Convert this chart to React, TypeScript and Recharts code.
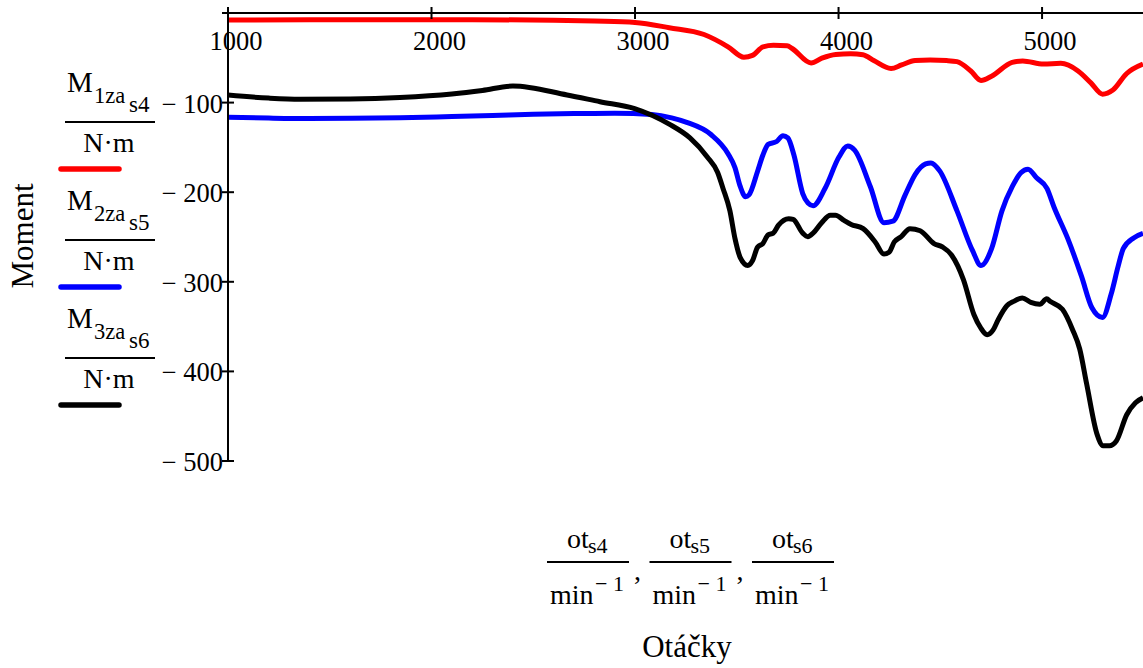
import React from 'react'
import { Line, LineChart, XAxis, YAxis } from 'recharts'

// Moment curves vs. engine speed
// each pair is [otacky (min^-1), moment (N·m)]
const m1za_s4: [number, number][] = [
  [1000, -7.8], [1400, -7.6], [1800, -7.4], [2200, -7.4], [2600, -8], [2800, -9],
  [3000, -10.6], [3168, -16.4], [3339, -24], [3457, -37.7], [3535, -49.3], [3577, -47.3],
  [3629, -37.7], [3680, -36], [3747, -36.5], [3772, -39.6], [3865, -55.8], [3918, -50.4],
  [3986, -46.2], [4060, -45.5], [4120, -46.5], [4173, -53.1], [4258, -62], [4310, -58],
  [4376, -53.1], [4450, -52.5], [4531, -53.1], [4582, -54.3], [4650, -64.7], [4700, -75.2],
  [4752, -70.5], [4853, -55.1], [4905, -53.5], [5007, -57], [5092, -56.2], [5177, -64.7],
  [5240, -78], [5297, -90.6], [5348, -86], [5416, -67.5], [5496, -57],
]

const m2za_s5: [number, number][] = [
  [1000, -116.4], [1200, -117.3], [1400, -117.8], [1600, -117.6], [1845, -117], [2100, -115.5],
  [2300, -114.3], [2500, -113], [2700, -112.3], [2900, -111.8], [3083, -113.3], [3180, -117],
  [3254, -122], [3373, -135.6], [3457, -157], [3491, -172.5], [3517, -193.6], [3543, -205],
  [3560, -203], [3603, -176], [3628, -158.8], [3654, -146.6], [3696, -143.4], [3727, -136.9],
  [3751, -139.4], [3781, -158.8], [3824, -201.5], [3850, -212], [3875, -215], [3934, -195.6],
  [4002, -160.8], [4045, -148.4], [4079, -153], [4156, -193.6], [4223, -234], [4267, -232.4],
  [4327, -203.3], [4377, -180], [4428, -168.4], [4454, -167.3], [4497, -176.2], [4582, -220.8],
  [4658, -265], [4700, -281.8], [4752, -263], [4803, -220.8], [4854, -193.6], [4896, -178.3],
  [4931, -174.3], [4973, -184], [5024, -195.7], [5059, -216.8], [5126, -251.6], [5194, -294],
  [5245, -329], [5297, -339.8], [5340, -313.4], [5374, -282.6], [5399, -263], [5450, -251],
  [5496, -246],
]

const m3za_s6: [number, number][] = [
  [1000, -91.5], [1200, -95], [1354, -96.3], [1600, -96], [1845, -94.4], [2100, -90.5],
  [2250, -86.5], [2400, -81.5], [2666, -91.5], [2828, -99], [2998, -106.7], [3168, -124],
  [3270, -139.4], [3355, -160.6], [3406, -178], [3432, -195.5], [3466, -220.6], [3491, -251.5],
  [3517, -273], [3554, -281.7], [3577, -276.6], [3602, -261.5], [3628, -257.3], [3654, -247.6],
  [3679, -245.7], [3705, -236.7], [3755, -229.5], [3777, -230.3], [3824, -245.7], [3849, -249.6],
  [3875, -245.7], [3917, -234], [3960, -225.7], [3985, -225.7], [4027, -231.5], [4062, -236],
  [4121, -240.7], [4180, -255.5], [4223, -269], [4248, -267], [4274, -255.5], [4308, -249.6],
  [4351, -240.7], [4401, -243], [4469, -257.3], [4512, -261.3], [4555, -270], [4614, -297.8],
  [4665, -336.5], [4700, -352], [4730, -359], [4759, -354], [4784, -342.5], [4827, -326.8],
  [4861, -321.8], [4903, -318], [4945, -323], [4989, -325], [5023, -319], [5039, -321.8],
  [5100, -330.7], [5151, -354], [5185, -375], [5219, -413.8], [5270, -470], [5300, -483],
  [5331, -483], [5365, -477.7], [5416, -448.4], [5459, -435], [5496, -429.5],
]

const xTicks = [1000, 2000, 3000, 4000, 5000]
const yTicks = [-500, -400, -300, -200, -100, 0]
const xDomain = [1000, 5496]
const yDomain = [-500, 0]

const legendItems = [
  { idx: '1za', sub: 's4', color: '#ff0000' },
  { idx: '2za', sub: 's5', color: '#0000ff' },
  { idx: '3za', sub: 's6', color: '#000000' },
]
const xLabelSubs = ['s4', 's5', 's6']

const toPoints = (pairs: [number, number][]) => pairs.map(([x, y]) => ({ x, y }))

const FONT = "'Liberation Serif', 'Times New Roman', Times, serif"

const XTick = (props: any) => {
  const { x, y, payload } = props
  return (
    <g>
      <line x1={x} x2={x} y1={y - 6} y2={y + 6} stroke="#000" strokeWidth={2} />
      <text x={x + 8} y={y + 37} textAnchor="middle" fill="#000" style={{ fontFamily: FONT, fontSize: 26.5 }}>
        {payload.value}
      </text>
    </g>
  )
}

const YTick = (props: any) => {
  const { x, y, payload } = props
  const label = payload.value === 0 ? '' : `\u2212 ${-payload.value}`
  return (
    <g>
      <line x1={x - 6} x2={x + 6} y1={y} y2={y} stroke="#000" strokeWidth={2} />
      <text x={x - 5} y={y + 10} textAnchor="end" fill="#000" style={{ fontFamily: FONT, fontSize: 26.5 }}>
        {label}
      </text>
    </g>
  )
}

// Mathcad style labels: legend fractions, axis titles
const Labels = () => (
  <svg
    width={1143}
    height={668}
    style={{ position: 'absolute', left: 0, top: 0, pointerEvents: 'none', fontFamily: FONT }}
    fill="#000"
  >
    {legendItems.map((item, i) => {
      const o = i * 118
      return (
        <g key={item.sub}>
          <text x={67} y={92 + o} fontSize={29}>M</text>
          <text x={94} y={103 + o} fontSize={22.5}>{item.idx}</text>
          <text x={129} y={112 + o} fontSize={23}>{item.sub}</text>
          <line x1={65} x2={155} y1={122 + o} y2={122 + o} stroke="#000" strokeWidth={2} />
          <text x={109} y={152 + o} fontSize={28} textAnchor="middle">N·m</text>
          <line
            x1={61}
            x2={119}
            y1={169 + o}
            y2={169 + o}
            stroke={item.color}
            strokeWidth={5.5}
            strokeLinecap="round"
          />
        </g>
      )
    })}
    <text transform="translate(33,236) rotate(-90)" textAnchor="middle" fontSize={31}>
      Moment
    </text>

    {xLabelSubs.map((s, i) => {
      const x0 = 547 + i * 102.5
      return (
        <g key={s}>
          <text x={x0 + 20} y={548} fontSize={28}>ot</text>
          <text x={x0 + 41} y={553} fontSize={22}>{s}</text>
          <line x1={x0} x2={x0 + 82} y1={562} y2={562} stroke="#000" strokeWidth={2} />
          <text x={x0 + 3} y={604} fontSize={28}>min</text>
          <text x={x0 + 48} y={591} fontSize={22}>{'\u2212 1'}</text>
          {i < 2 && (
            <text x={x0 + 87} y={580} fontSize={28}>,</text>
          )}
        </g>
      )
    })}
    <text x={687} y={657} textAnchor="middle" fontSize={31}>
      Otáčky
    </text>
  </svg>
)

export default function App() {
  return (
    <div
      style={{
        position: 'absolute',
        left: 0,
        top: 0,
        width: 1143,
        height: 668,
        overflow: 'hidden',
        background: '#fff',
        fontFamily: FONT,
      }}
    >
      <LineChart width={1143} height={668} margin={{ top: 12, right: 0, bottom: 207, left: 0 }}>
        <XAxis
          type="number"
          dataKey="x"
          orientation="top"
          domain={xDomain}
          ticks={xTicks}
          interval={0}
          height={1}
          tickSize={0}
          tickMargin={0}
          tickLine={false}
          axisLine={{ stroke: '#000', strokeWidth: 2 }}
          tick={<XTick />}
          allowDataOverflow
        />
        <YAxis
          type="number"
          dataKey="y"
          domain={yDomain}
          ticks={yTicks}
          interval={0}
          width={228}
          tickSize={0}
          tickMargin={0}
          tickLine={false}
          axisLine={{ stroke: '#000', strokeWidth: 2 }}
          tick={<YTick />}
          allowDataOverflow
        />
        <Line
          data={toPoints(m1za_s4)}
          dataKey="y"
          type="monotone"
          stroke="#ff0000"
          strokeWidth={5}
          dot={false}
          isAnimationActive={false}
        />
        <Line
          data={toPoints(m2za_s5)}
          dataKey="y"
          type="monotone"
          stroke="#0000ff"
          strokeWidth={5}
          dot={false}
          isAnimationActive={false}
        />
        <Line
          data={toPoints(m3za_s6)}
          dataKey="y"
          type="monotone"
          stroke="#000000"
          strokeWidth={5}
          dot={false}
          isAnimationActive={false}
        />
      </LineChart>
      <Labels />
    </div>
  )
}
